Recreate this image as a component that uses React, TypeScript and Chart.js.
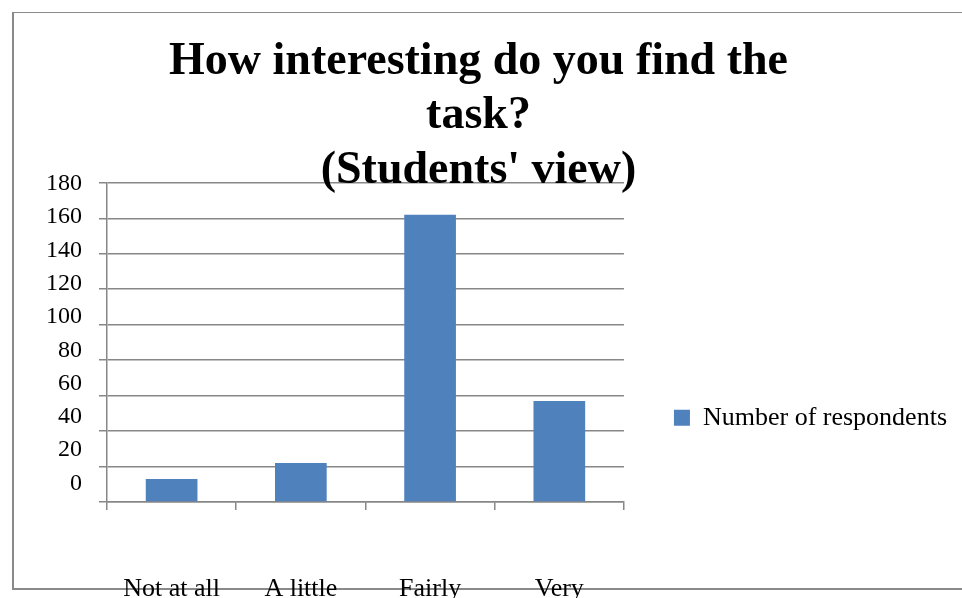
import React, { useEffect, useRef } from 'react';
import { Chart, registerables } from 'chart.js';

Chart.register(...registerables);

const TITLE_LINES = ['How interesting do you find the', 'task?', "(Students' view)"];
const CATEGORIES = ['Not at all', 'A little', 'Fairly', 'Very'];
const SERIES_LABEL = 'Number of respondents';
const RESPONDENTS = [13, 22, 162, 57];
const Y_TICKS = [0, 20, 40, 60, 80, 100, 120, 140, 160, 180];

const BAR_COLOR = '#4F81BD';
const GRID_COLOR = '#878787';
const SERIF = "'Liberation Serif', 'Times New Roman', serif";

export default function App() {
  const ref = useRef<HTMLCanvasElement>(null);

  useEffect(() => {
    document.body.style.margin = '0';
    const chart = new Chart(ref.current as HTMLCanvasElement, {
      type: 'bar',
      data: {
        labels: CATEGORIES,
        datasets: [
          {
            label: SERIES_LABEL,
            data: RESPONDENTS,
            backgroundColor: BAR_COLOR,
            borderWidth: 0,
            xAxisID: 'x',
            yAxisID: 'y',
            barPercentage: 0.4,
            categoryPercentage: 1,
          },
        ],
      },
      options: {
        responsive: false,
        animation: false,
        layout: { padding: { left: 0, right: 5, top: 0, bottom: 0 } },
        plugins: {
          title: {
            display: true,
            text: TITLE_LINES,
            color: '#000',
            font: { family: SERIF, size: 46, weight: 'bold', lineHeight: 1.18 },
            padding: { top: 35, bottom: -15 },
          },
          legend: {
            position: 'right',
            align: 'start',
            fullSize: false,
            maxWidth: 400,
            title: {
              display: true,
              text: '',
              font: { size: 12 },
              padding: { top: 0, bottom: 197.6 },
            },
            labels: {
              boxWidth: 16,
              boxHeight: 16,
              padding: 10,
              color: '#000',
              font: { family: SERIF, size: 26 },
            },
          },
          tooltip: { enabled: false },
        },
        scales: {
          x: {
            type: 'category',
            position: 'bottom',
            offset: true,
            grid: {
              offset: true,
              drawOnChartArea: false,
              drawTicks: true,
              tickLength: 8,
              color: GRID_COLOR,
              lineWidth: 1.5,
            },
            border: { display: true, color: GRID_COLOR, width: 1.5 },
            ticks: {
              color: '#000',
              font: { family: SERIF, size: 26 },
              padding: 64,
              maxRotation: 0,
              autoSkip: false,
            },
            afterFit: (s: any) => {
              s.height = 96;
            },
          },
          y: {
            type: 'linear',
            position: 'left',
            min: 0,
            max: 180,
            weight: 0,
            ticks: { display: false, stepSize: 20 },
            grid: { color: GRID_COLOR, lineWidth: 1.5, tickLength: 8, drawTicks: true },
            border: { display: true, color: GRID_COLOR, width: 1.5 },
          },
          yl: {
            type: 'linear',
            position: 'left',
            min: -11.2,
            max: 180.6,
            weight: 1,
            grid: { display: false, drawTicks: false },
            border: { display: false },
            ticks: {
              color: '#000',
              font: { family: SERIF, size: 24 },
              padding: 17,
            },
            afterBuildTicks: (s: any) => {
              s.ticks = Y_TICKS.map((v) => ({ value: v }));
            },
            afterFit: (s: any) => {
              s.width = 99;
            },
          },
          yr: {
            type: 'linear',
            position: 'right',
            display: true,
            grid: { display: false, drawTicks: false },
            border: { display: false },
            ticks: { display: false },
            afterFit: (s: any) => {
              s.width = 40;
            },
          },
        },
      },
    } as any);
    return () => chart.destroy();
  }, []);

  return (
    <div style={{ position: 'relative', width: 962, height: 598, overflow: 'hidden', background: '#fff' }}>
      <div
        style={{
          position: 'absolute',
          left: 12,
          top: 12,
          width: 1000,
          height: 578,
          boxSizing: 'border-box',
          borderTop: '1.5px solid #8a8a8a',
          borderLeft: '2px solid #8a8a8a',
          borderBottom: '2px solid #8a8a8a',
        }}
      />
      <canvas ref={ref} width={962} height={598} style={{ position: 'absolute', left: 0, top: 0 }} />
    </div>
  );
}
